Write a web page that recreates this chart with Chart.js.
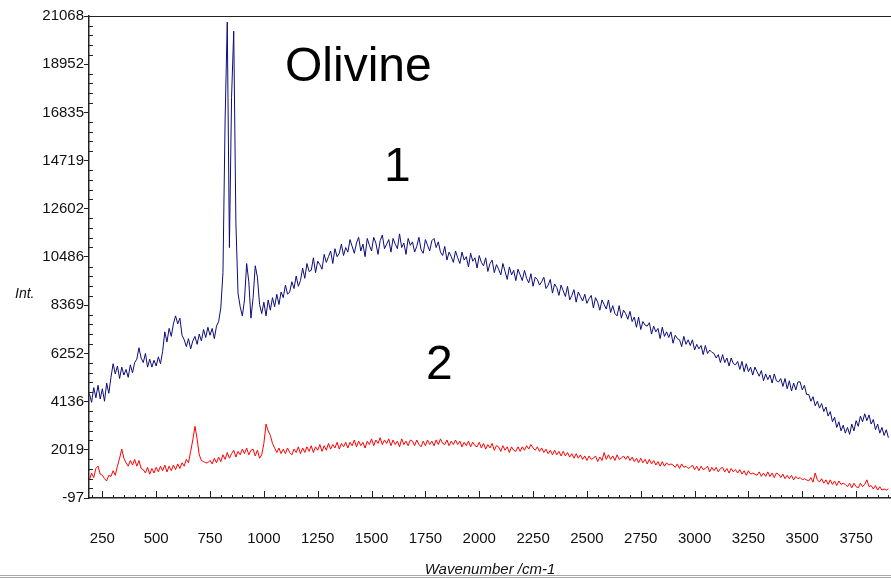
<!DOCTYPE html>
<html>
<head>
<meta charset="utf-8">
<script src="https://cdn.jsdelivr.net/npm/chart.js@4.4.1/dist/chart.umd.min.js"></script>
<style>
  html, body { margin: 0; padding: 0; background: #fff; }
  #wrap { position: relative; width: 891px; height: 578px; }
</style>
</head>
<body>
<div id="wrap"><canvas id="spectrum"></canvas></div>
<script>
(() => {
  "use strict";

  // sampling of the spectra (cm-1): first point and spacing
  const WN_START = 190;
  const WN_STEP = 10;

  const X_TICKS = [250, 500, 750, 1000, 1250, 1500, 1750, 2000, 2250, 2500, 2750, 3000, 3250, 3500, 3750];
  const Y_TICKS = [-97, 2019, 4136, 6252, 8369, 10486, 12602, 14719, 16835, 18952, 21068];

  // spectrum 1 (blue), one row per 100 cm-1
  const spectrum1 = [
    4480, 4100, 4750, 4300, 4850, 4250, 4700, 4150, 4950, 4500,
    5200, 5800, 5350, 5700, 5150, 5650, 5300, 5550, 5200, 5750,
    5400, 5850, 6000, 6500, 6050, 5850, 6250, 5650, 6000, 5650,
    5950, 5700, 6100, 5800, 6350, 7200, 6750, 7350, 7000, 7550,
    7900, 7550, 7800, 7050, 6850, 6550, 6900, 6450, 6800, 7000,
    6650, 7100, 6800, 7300, 6950, 7400, 7050, 7350, 6900, 7450,
    7650, 8250, 9800, 16500, 20800, 10900, 17500, 20400, 12000, 8900,
    8300, 7900, 8600, 10200, 9400, 7800, 8700, 10100, 9600, 8400,
    8000, 8500, 7900, 8600, 8150, 8700, 8300, 8850, 8400, 8950,
    8700, 9250, 8850, 8950, 9400, 9100, 9650, 9200, 9450, 10000,
    9550, 10200, 9850, 9900, 10450, 9800, 10300, 10150, 9950, 10600,
    10250, 10500, 10750, 10200, 10850, 10500, 10650, 11050, 10550, 10900,
    10700, 11250, 10950, 10650, 11100, 11350, 10750, 11050, 10500, 11300,
    11000, 10750, 11350, 11100, 10600, 11200, 11450, 10850, 11050, 11250,
    10700, 11300, 11050, 10850, 11500, 10900, 11100, 10600, 11300, 11000,
    11150, 10700, 10950, 11350, 10800, 10650, 11250, 11000, 10750, 11200,
    11300, 10900, 11150, 10700, 10550, 10950, 10350, 10700, 10500, 10250,
    10750, 10450, 10200, 10700, 10350, 10500, 10050, 10650, 10300, 10450,
    10000, 10550, 10250, 10100, 10450, 9850, 10200, 10350, 9800, 10150,
    9950, 9700, 10200, 9850, 9500, 10050, 9700, 9900, 9450, 9950,
    9700, 9450, 9900, 9550, 9350, 9750, 9200, 9600, 9500, 9250,
    9400, 9600, 9100, 9250, 9500, 8900, 9300, 9150, 8800, 9250,
    9000, 8750, 9200, 8600, 8800, 9050, 8500, 8950, 8750, 8550,
    8850, 8450, 8650, 8800, 8250, 8700, 8500, 8150, 8600, 8400,
    8200, 8600, 8050, 8350, 8000, 7900, 8350, 7800, 8150, 8000,
    7750, 8100, 7650, 7850, 7400, 7850, 7300, 7650, 7500, 7450,
    7600, 7100, 7450, 7200, 7350, 6900, 7400, 7000, 7200, 6950,
    7200, 6700, 7050, 6900, 6850, 6550, 7000, 6650, 6850, 6600,
    6850, 6400, 6650, 6450, 6600, 6200, 6600, 6250, 6400, 6300,
    6250, 6050, 6200, 5850, 6200, 5850, 6050, 5700, 6050, 5800,
    5750, 5900, 5550, 5900, 5450, 5800, 5450, 5650, 5300, 5650,
    5450, 5250, 5500, 5050, 5350, 5100, 5300, 4950, 5350, 5050,
    5000, 5150, 4800, 5150, 4700, 5050, 4600, 4950, 4650, 5000,
    5000, 4650, 4850, 4450, 4450, 4150, 4350, 3950, 4150, 3850,
    4050, 3700, 3900, 3500, 3700, 3250, 3450, 3000, 3250, 2850,
    3100, 2750, 3000, 2700, 3150, 2850, 3300, 3050, 3500, 3250,
    3600, 3300, 3550, 3150, 3350, 2900, 3150, 2750, 3000, 2650,
    2900, 2550
  ];

  // spectrum 2 (red)
  const spectrum2 = [
    700, 1000, 800, 1200, 1300, 950, 900, 750, 650, 900,
    850, 1100, 900, 1300, 1650, 2050, 1650, 1450, 1300, 1550,
    1350, 1600, 1300, 1550, 1200, 1150, 1000, 1250, 950, 1200,
    1000, 1250, 1050, 1300, 1100, 1350, 1050, 1300, 1100, 1350,
    1150, 1400, 1200, 1450, 1300, 1600, 1450, 1950, 2450, 3050,
    2500, 1800, 1550, 1500, 1450, 1450, 1550, 1400, 1650, 1450,
    1700, 1500, 1800, 1600, 1900, 1650, 1850, 2000, 1700, 1950,
    1800, 2050, 1850, 2100, 1800, 2000, 2050, 1750, 2000, 1650,
    1800, 2300, 3150, 2850, 2650, 2300, 2100, 1900, 2100, 1850,
    2050, 1850, 2100, 1900, 1800, 2050, 1900, 2150, 1850, 2100,
    1900, 2150, 1950, 2200, 1900, 2150, 2000, 2250, 1950, 2200,
    2000, 2300, 2050, 2250, 2100, 2350, 2050, 2300, 2150, 2350,
    2100, 2350, 2200, 2450, 2150, 2400, 2200, 2350, 2100, 2400,
    2250, 2500, 2200, 2450, 2300, 2550, 2250, 2450, 2300, 2500,
    2200, 2450, 2250, 2400, 2150, 2500, 2250, 2400, 2200, 2450,
    2400, 2200, 2450, 2250, 2150, 2400, 2200, 2450, 2250, 2400,
    2200, 2450, 2250, 2500, 2300, 2250, 2450, 2200, 2400, 2250,
    2450, 2250, 2400, 2150, 2350, 2200, 2400, 2150, 2350, 2200,
    2150, 2350, 2100, 2300, 2050, 2250, 2100, 2300, 2000, 2200,
    2150, 1950, 2200, 2000, 2150, 1900, 2150, 2000, 1950, 2150,
    1950, 2150, 2000, 2200, 2050, 2250, 2100, 2000, 2150, 1950,
    2100, 1900, 2050, 1850, 2000, 1800, 2000, 1800, 1950, 1750,
    1950, 1750, 1900, 1700, 1850, 1650, 1850, 1650, 1800, 1600,
    1750, 1550, 1750, 1600, 1650, 1750, 1500, 1700, 1550, 1900,
    1600, 1800, 1600, 1750, 1550, 1800, 1600, 1650, 1750, 1600,
    1750, 1550, 1700, 1500, 1650, 1450, 1650, 1450, 1600, 1400,
    1600, 1400, 1550, 1350, 1500, 1300, 1500, 1300, 1450, 1350,
    1400, 1350, 1250, 1400, 1200, 1400, 1250, 1300, 1200, 1250,
    1350, 1150, 1300, 1100, 1300, 1150, 1200, 1300, 1050, 1250,
    1100, 1250, 1050, 1200, 1250, 1050, 1200, 1000, 1200, 1050,
    1150, 1000, 1150, 950, 1100, 900, 1100, 950, 1000, 950,
    900, 1050, 850, 1000, 850, 1050, 850, 1000, 800, 1000,
    950, 800, 950, 750, 900, 750, 900, 700, 850, 750,
    800, 700, 750, 700, 650, 800, 600, 1000, 700, 600,
    750, 550, 700, 500, 700, 500, 650, 450, 650, 500,
    550, 500, 400, 550, 350, 550, 400, 350, 550, 400,
    500, 700, 400, 450, 300, 450, 250, 400, 250, 300,
    250, 300
  ];

  const TEXT = "#111";
  const AXIS = "#222";

  function toPoints(values) {
    return values.map((v, i) => ({ x: WN_START + i * WN_STEP, y: v }));
  }

  // small ticks between the labelled ones, and the text drawn on the plot
  const decorations = {
    id: "decorations",
    afterDraw(chart) {
      const { ctx, chartArea: a, scales } = chart;
      const xs = scales.x, ys = scales.y;
      ctx.save();
      ctx.strokeStyle = AXIS;
      ctx.lineWidth = 1;
      ctx.beginPath();
      ctx.moveTo(a.left, a.top + 0.5);
      ctx.lineTo(a.right, a.top + 0.5);
      for (let v = 200; v < xs.max; v += 50) {
        const px = Math.round(xs.getPixelForValue(v)) + 0.5;
        const len = X_TICKS.includes(v) ? 7 : 3;
        ctx.moveTo(px, a.bottom);
        ctx.lineTo(px, a.bottom - len);
      }
      for (let i = 0; i < Y_TICKS.length - 1; i++) {
        const step = (Y_TICKS[i + 1] - Y_TICKS[i]) / 5;
        for (let k = 1; k < 5; k++) {
          const py = Math.round(ys.getPixelForValue(Y_TICKS[i] + k * step)) + 0.5;
          ctx.moveTo(a.left, py);
          ctx.lineTo(a.left + 4, py);
        }
      }
      ctx.stroke();

      ctx.fillStyle = "#000";
      ctx.textBaseline = "alphabetic";
      ctx.textAlign = "left";
      ctx.font = '48px "Liberation Sans", Arial, sans-serif';
      ctx.fillText("Olivine", 285, 81);
      ctx.fillText("1", 384, 181);
      ctx.fillText("2", 426, 379);

      ctx.fillStyle = TEXT;
      ctx.font = 'italic 14px "Liberation Sans", Arial, sans-serif';
      ctx.fillText("Int.", 15, 298);
      ctx.textAlign = "center";
      ctx.font = 'italic 15px "Liberation Sans", Arial, sans-serif';
      ctx.fillText("Wavenumber /cm-1", 490, 574);

      ctx.strokeStyle = "#a8a8a8";
      ctx.beginPath();
      ctx.moveTo(0, 575.5); ctx.lineTo(891, 575.5);
      ctx.moveTo(0, 577.5); ctx.lineTo(891, 577.5);
      ctx.stroke();
      ctx.restore();
    }
  };

  new Chart(document.getElementById("spectrum"), {
    type: "line",
    data: {
      datasets: [
        {
          label: "1",
          data: toPoints(spectrum1),
          borderColor: "#0c0c7a",
          borderWidth: 1,
          pointRadius: 0,
          tension: 0
        },
        {
          label: "2",
          data: toPoints(spectrum2),
          borderColor: "#ff0000",
          borderWidth: 1,
          pointRadius: 0,
          tension: 0
        }
      ]
    },
    options: {
      responsive: true,
      maintainAspectRatio: false,
      animation: false,
      layout: { padding: { top: 16, right: 0, left: 0, bottom: 0 } },
      plugins: {
        legend: { display: false },
        tooltip: { enabled: false }
      },
      scales: {
        x: {
          type: "linear",
          min: 188,
          max: 3912,
          afterFit: s => { s.height = 80; s.paddingLeft = 0; s.paddingRight = 0; },
          afterBuildTicks: s => { s.ticks = X_TICKS.map(v => ({ value: v })); },
          grid: { display: false },
          border: { display: true, color: AXIS, width: 1.5 },
          ticks: {
            color: TEXT,
            padding: 24,
            maxRotation: 0,
            autoSkip: false,
            font: { family: '"Liberation Sans", Arial, sans-serif', size: 15 },
            callback: v => String(v)
          }
        },
        y: {
          min: -97,
          max: 21068,
          afterFit: s => { s.width = 89; s.paddingTop = 0; s.paddingBottom = 0; },
          afterBuildTicks: s => { s.ticks = Y_TICKS.map(v => ({ value: v })); },
          grid: { drawOnChartArea: false, drawTicks: true, tickLength: 5, color: AXIS },
          border: { display: true, color: AXIS, width: 1.5 },
          ticks: {
            color: TEXT,
            padding: 0,
            autoSkip: false,
            font: { family: '"Liberation Sans", Arial, sans-serif', size: 15 },
            callback: v => String(v)
          }
        }
      }
    },
    plugins: [decorations]
  });
})();
</script>
</body>
</html>
